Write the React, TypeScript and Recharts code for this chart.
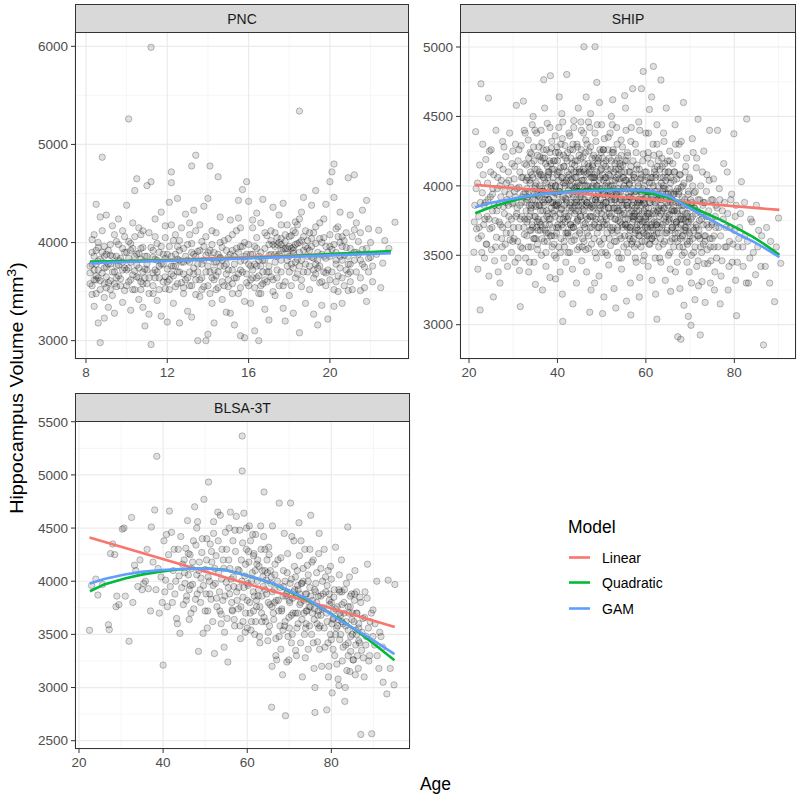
import React from 'react';
import { ScatterChart, Scatter, XAxis, YAxis, CartesianGrid } from 'recharts';

type Pt = [number, number];

const modelNames = ['Linear', 'Quadratic', 'GAM'];
const modelColors = ['#F8766D', '#00BA38', '#619CFF'];
const panelTitles = ['PNC', 'SHIP', 'BLSA-3T'];

const pncXTicks = [8, 12, 16, 20];
const pncYTicks = [3000, 4000, 5000, 6000];
const shipXTicks = [20, 40, 60, 80];
const shipYTicks = [3000, 3500, 4000, 4500, 5000];
const blsaXTicks = [20, 40, 60, 80];
const blsaYTicks = [2500, 3000, 3500, 4000, 4500, 5000, 5500];

const pncPoints: Pt[] = [
[8.2,3580],[8.3,3900],[8.3,4030],[8.4,3350],[8.4,3720],[8.5,3620],[8.5,4390],[8.6,3180],[8.6,3810],[8.7,2980],[8.7,3520],[8.7,4260],[8.8,4870],[8.8,3690],[8.9,3960],[8.9,3230],[8.9,3440],[8.2,3760],[8.5,3920],[8.8,4120],[8.4,3860],[8.6,3640],
[9.0,3750],[9.0,4280],[9.1,3590],[9.1,3340],[9.2,3980],[9.2,3870],[9.3,3460],[9.3,4170],[9.4,3700],[9.4,3280],[9.5,4010],[9.5,3550],[9.6,3820],[9.6,4240],[9.7,3630],[9.8,3390],[9.8,3940],[9.9,3740],[9.9,4060],[9.2,3610],[9.6,3770],[9.9,3510],[9.0,3880],
[10.0,4380],[10.0,3560],[10.1,5260],[10.1,3840],[10.2,3310],[10.2,3990],[10.3,3670],[10.3,4200],[10.4,3520],[10.4,4530],[10.5,4650],[10.5,3770],[10.6,3420],[10.6,3890],[10.7,4080],[10.7,3600],[10.8,3340],[10.8,3950],[10.9,3150],[10.9,3730],[10.2,3620],[10.6,4150],[10.9,3860],[10.4,3710],
[11.0,4580],[11.0,3580],[11.1,4100],[11.1,3270],[11.2,5990],[11.2,4620],[11.2,2960],[11.3,3850],[11.3,3480],[11.4,4240],[11.4,3720],[11.5,3410],[11.5,3990],[11.6,3640],[11.7,4310],[11.7,3250],[11.8,3780],[11.9,4050],[11.9,3530],[11.3,3690],[11.6,3900],[11.8,3600],
[12.0,3190],[12.0,3880],[12.1,4410],[12.1,3620],[12.2,4720],[12.2,4610],[12.2,3760],[12.3,3380],[12.3,4020],[12.4,3550],[12.5,4450],[12.5,3830],[12.6,3180],[12.6,3700],[12.7,4150],[12.8,3480],[12.8,3940],[12.9,3620],[12.9,4290],[12.4,3880],[12.7,3590],
[13.0,3820],[13.0,3300],[13.1,4080],[13.1,3560],[13.2,4780],[13.2,3240],[13.3,3740],[13.3,4330],[13.4,4890],[13.4,3620],[13.5,3000],[13.5,3910],[13.6,3450],[13.6,4180],[13.7,3780],[13.8,3550],[13.8,4370],[13.9,3000],[13.9,3870],[13.2,3990],[13.5,3700],[13.7,4010],
[14.0,3065],[14.0,4450],[14.1,4780],[14.1,3700],[14.2,3380],[14.2,3980],[14.3,3180],[14.3,3620],[14.4,4100],[14.5,4670],[14.5,3540],[14.6,3850],[14.6,4260],[14.7,3420],[14.8,3760],[14.8,4020],[14.9,3290],[14.9,3680],[14.3,3900],[14.7,3950],[14.4,3800],
[15.0,3850],[15.0,3550],[15.1,4230],[15.1,3280],[15.2,3720],[15.2,4080],[15.3,3160],[15.3,3640],[15.4,3940],[15.5,4430],[15.5,3480],[15.6,3810],[15.6,3050],[15.7,4540],[15.7,3700],[15.8,3030],[15.8,4000],[15.9,3590],[15.9,4620],[15.3,3860],[15.6,4150],[15.8,3400],
[16.0,3560],[16.0,4420],[16.1,3880],[16.1,3380],[16.2,4150],[16.2,3720],[16.3,3100],[16.3,3960],[16.4,3640],[16.4,4300],[16.5,3000],[16.5,3820],[16.6,3480],[16.6,4200],[16.7,3700],[16.7,4440],[16.8,3320],[16.8,3940],[16.9,3600],[16.9,4070],[16.3,3780],[16.6,3560],
[17.0,3870],[17.0,3210],[17.1,4120],[17.1,3650],[17.2,3980],[17.2,4360],[17.3,3460],[17.3,3800],[17.4,4050],[17.5,3560],[17.5,4280],[17.6,3920],[17.6,3700],[17.7,4400],[17.7,3330],[17.8,4010],[17.8,3600],[17.9,3940],[17.9,4180],[17.4,3860],[17.6,3980],[17.8,3200],
[18.0,3960],[18.0,3460],[18.1,4070],[18.1,3780],[18.2,3280],[18.2,3890],[18.3,4210],[18.3,3640],[18.4,3990],[18.5,5340],[18.5,3080],[18.5,3760],[18.6,4310],[18.6,3550],[18.7,3920],[18.8,4120],[18.8,3380],[18.9,3700],[18.9,4020],[18.2,3950],[18.4,3830],[18.7,4460],
[19.0,3520],[19.0,4100],[19.1,3850],[19.1,4380],[19.2,3640],[19.2,3270],[19.3,3990],[19.3,4530],[19.4,3160],[19.4,3740],[19.5,4200],[19.5,3590],[19.6,3880],[19.6,3360],[19.7,4050],[19.8,3690],[19.8,4390],[19.9,3220],[19.9,3900],[19.3,3780],[19.6,4000],
[20.0,4620],[20.0,3620],[20.1,4720],[20.1,3930],[20.2,4800],[20.2,4460],[20.2,3350],[20.3,3780],[20.3,4140],[20.4,3500],[20.5,3860],[20.5,4310],[20.6,3640],[20.6,3380],[20.7,4020],[20.8,3720],[20.8,3950],[20.9,4660],[20.9,3510],[20.4,4060],[20.7,3870],
[21.0,4280],[21.0,3780],[21.1,3520],[21.2,4690],[21.2,4130],[21.3,3900],[21.4,4010],[21.5,3640],[21.6,3930],[21.7,3750],[21.8,4430],[21.8,3400],[21.9,4140],[21.9,3700],[21.5,3510],[21.6,4330],
[22.0,3850],[22.1,3600],[22.4,4125],[22.6,3790],[23.2,4207],[22.9,3940],
[8.2,3690],[8.3,3560],[8.4,4080],[8.5,3780],[8.5,3480],[8.6,3950],[8.7,3830],[8.7,3610],[8.8,3900],[8.9,3740],[8.3,3470],[8.6,4000],[8.9,3580],[8.4,3620],
[9.0,3650],[9.1,3920],[9.1,3780],[9.2,3520],[9.3,3700],[9.3,3860],[9.4,4080],[9.5,3760],[9.5,3640],[9.6,3980],[9.7,3560],[9.7,3840],[9.8,3720],[9.9,3900],[9.4,3580],[9.8,4120],
[10.0,3720],[10.0,3900],[10.1,3600],[10.2,3800],[10.3,3520],[10.3,3940],[10.4,4060],[10.5,3650],[10.5,3880],[10.6,3740],[10.7,3520],[10.7,3830],[10.8,4120],[10.9,3640],[10.8,3700],[10.1,4010],
[11.0,3720],[11.0,3860],[11.1,3640],[11.2,3950],[11.3,3560],[11.4,3830],[11.4,4060],[11.5,3700],[11.6,3520],[11.7,3780],[11.7,3960],[11.8,3880],[11.9,3650],[11.9,4170],[11.1,3480],[11.5,3820],
[12.0,3730],[12.1,3960],[12.1,3520],[12.2,3860],[12.3,3660],[12.4,4080],[12.4,3760],[12.5,3580],[12.6,3920],[12.6,4020],[12.7,3800],[12.8,3680],[12.8,3540],[12.9,3860],[12.2,4180],[12.5,3700],
[13.0,3640],[13.0,3980],[13.1,3800],[13.2,3560],[13.3,3880],[13.3,3680],[13.4,4120],[13.5,3780],[13.6,3620],[13.6,3920],[13.7,3520],[13.8,3820],[13.9,3700],[13.9,4060],[13.1,4200],[13.4,3470],
[14.0,3760],[14.0,3560],[14.1,3920],[14.2,3640],[14.2,4120],[14.3,3800],[14.4,3520],[14.5,3880],[14.5,3700],[14.6,4000],[14.7,3600],[14.7,3820],[14.8,3560],[14.9,3920],[14.1,3480],[14.6,3760],
[15.0,3720],[15.0,4040],[15.1,3880],[15.2,3580],[15.3,3780],[15.4,3640],[15.4,4120],[15.5,3900],[15.6,3720],[15.6,3540],[15.7,3960],[15.8,3820],[15.9,3680],[15.9,3880],[15.2,3480],[15.5,4250],
[16.0,3780],[16.0,3980],[16.1,3620],[16.2,3880],[16.3,3540],[16.4,3760],[16.4,4050],[16.5,3660],[16.6,3900],[16.6,3760],[16.7,3580],[16.8,4100],[16.8,3820],[16.9,3700],[16.2,4230],[16.5,3480],
[17.0,3980],[17.0,3760],[17.1,3880],[17.2,3620],[17.3,3960],[17.3,4100],[17.4,3720],[17.5,3880],[17.5,4000],[17.6,3820],[17.7,3560],[17.7,3940],[17.8,4080],[17.9,3760],[17.2,3500],[17.6,4180],[17.9,3880],[17.4,3980],
[18.0,3860],[18.0,4060],[18.1,3940],[18.2,3740],[18.2,4120],[18.3,3980],[18.4,3680],[18.4,4180],[18.5,3900],[18.6,4020],[18.6,3820],[18.7,3700],[18.8,3960],[18.9,3860],[18.1,3560],[18.5,4240],[18.3,3800],[18.7,4060],
[19.0,3920],[19.0,3760],[19.1,4040],[19.2,3840],[19.3,3680],[19.3,4160],[19.4,3900],[19.5,3760],[19.5,4040],[19.6,3600],[19.7,3860],[19.7,4240],[19.8,3960],[19.9,3720],[19.2,4100],[19.8,3560],
[20.0,3860],[20.0,4080],[20.1,3700],[20.2,3980],[20.3,3600],[20.3,3900],[20.4,4160],[20.5,3740],[20.6,3960],[20.6,3820],[20.7,3560],[20.8,4100],[20.9,3860],[20.9,3680],[20.2,3520],[20.5,4000],
[21.0,3940],[21.0,3600],[21.1,4060],[21.2,3820],[21.3,3700],[21.4,3880],[21.5,4100],[21.6,3780],[21.7,3540],[21.8,3940],[21.9,3840],[21.3,4200],
[22.0,4000],[22.1,3760],[22.3,3880],[22.5,3540],[22.7,4020],
[8.3,3780],[8.6,3720],[8.9,3860],[9.2,3780],[9.5,3860],[9.8,3800],[10.1,3740],[10.4,3860],[10.7,3940],[11.0,3780],[11.3,3920],[11.6,3760],[11.9,3840],[12.2,3680],[12.5,3960],[12.8,3800],[13.1,3700],[13.4,3860],[13.7,3640],[14.0,3900],[14.3,3720],[14.6,3840],[14.9,3780],[15.2,3920],[15.5,3680],[15.8,3860],[16.1,3760],[16.4,3940],[16.7,3820],[17.0,3700],[17.3,3880],[17.6,4040],[17.9,3820],[18.2,3920],[18.5,4000],[18.8,3780],[19.1,3960],[19.4,3820],[19.7,3700],[20.0,3960],[20.3,3820],[20.6,4060],[20.9,3780],[21.2,3900],[21.5,3820],
[8.5,3660],[9.0,3540],[9.6,3660],[10.2,3920],[10.8,3580],[11.4,3640],[12.0,3600],[12.6,3820],[13.2,3900],[13.8,3960],[14.4,3660],[15.0,3620],[15.6,3960],[16.2,3640],[16.8,3620],[17.4,3640],[18.0,3700],[18.6,3620],[19.2,3720],[19.8,3840],[20.4,3660],[21.0,3700],[17.1,4020],[18.3,4100],[17.8,3940],[18.9,3940],[16.5,3860],[14.2,3840],[12.3,3760],[10.6,3640]
];

const shipPoints: Pt[] = [
[21.1,3522],[21.3,3860],[21.5,4390],[21.7,3690],[21.9,4020],[22.0,3400],[22.2,3780],[22.4,4150],[22.5,3106],[22.7,4735],[22.8,3640],[23.0,3950],[23.1,4300],[23.3,3720],[23.5,3480],[23.7,3880],[23.8,4190],[23.9,3580],
[24.1,3780],[24.2,4020],[24.4,4632],[24.5,3350],[24.7,3690],[24.8,3920],[25.0,4260],[25.1,3540],[25.3,3820],[25.5,3200],[25.6,4080],[25.8,3460],[25.9,3750],[26.1,4400],[26.2,3630],[26.4,3980],[26.6,3380],[26.7,3860],[26.9,4150],[27.0,3300],
[27.1,3720],[27.3,4040],[27.5,3560],[27.6,4320],[27.8,3850],[27.9,3480],[28.1,3960],[28.3,4210],[28.4,3660],[28.6,3900],[28.7,3420],[28.9,4100],[29.0,3780],[29.2,4380],[29.3,3610],[29.5,3990],[29.6,3520],[29.8,3870],[29.9,4250],
[30.1,3700],[30.2,4050],[30.4,3450],[30.5,3920],[30.7,4580],[30.8,3800],[31.0,3600],[31.1,4180],[31.3,3990],[31.4,3390],[31.6,3130],[31.6,3760],[31.8,4290],[31.9,3880],[32.1,3550],[32.2,4060],[32.4,3700],[32.5,4400],[32.7,3950],[32.8,3480],[32.9,3820],[32.3,4610],
[33.0,4150],[33.1,3640],[33.3,3900],[33.4,4330],[33.5,3380],[33.7,3780],[33.8,4020],[34.0,3560],[34.1,4230],[34.2,3860],[34.4,3700],[34.5,4500],[34.7,3450],[34.8,3980],[34.9,4120],[35.1,3620],[35.2,3850],[35.3,4380],[35.5,3540],[35.6,3930],[35.7,4070],[35.9,3740],[35.0,3290],[34.3,4440],
[36.0,4210],[36.1,3680],[36.3,3960],[36.4,3500],[36.5,4310],[36.7,3820],[36.8,4060],[36.9,4764],[37.0,3600],[37.2,3900],[37.3,4160],[37.4,3420],[37.6,3780],[37.7,4450],[37.8,3990],[37.9,3660],[38.1,4100],[38.2,3720],[38.3,3340],[38.4,4793],[38.5,3880],[38.6,4270],[38.8,3560],[38.9,4020],[37.1,4560],[36.6,3250],
[39.0,3800],[39.1,4180],[39.3,3640],[39.4,3950],[39.5,4360],[39.7,3480],[39.8,3870],[39.9,4080],[40.1,3720],[40.2,4240],[40.3,3560],[40.5,3990],[40.6,3380],[40.7,4130],[40.9,3830],[41.0,4520],[41.2,3024],[41.3,3700],[41.4,4020],[41.5,3600],[41.7,4290],[41.8,3910],[41.9,3450],[40.4,4640],[41.1,3220],[39.6,3330],
[42.0,3780],[42.1,4802],[42.2,4100],[42.4,3640],[42.5,3970],[42.6,4380],[42.8,3520],[42.9,3860],[43.0,4200],[43.2,3700],[43.3,4050],[43.4,3400],[43.6,3920],[43.7,4470],[43.8,3610],[43.9,4150],[44.1,3820],[44.2,3990],[44.3,3300],[44.5,4280],[44.6,3750],[44.7,4560],[44.9,3560],[44.0,4060],[43.5,3150],[44.4,3880],
[45.0,4120],[45.1,3680],[45.3,3940],[45.4,4400],[45.5,3460],[45.7,3830],[45.8,4210],[46.0,5002],[46.0,3600],[46.2,4000],[46.3,3730],[46.4,4330],[46.6,3380],[46.7,3880],[46.8,4090],[47.0,3550],[47.1,4250],[47.2,3960],[47.4,3700],[47.5,4520],[47.6,3250],[47.8,3850],[47.9,4150],[46.5,4640],[47.3,3090],[45.6,3560],
[48.0,3780],[48.1,4060],[48.3,3620],[48.5,5002],[48.5,4380],[48.6,3900],[48.8,3480],[48.9,4745],[49.0,4000],[49.2,3700],[49.3,4200],[49.4,3350],[49.6,3860],[49.7,4110],[49.9,3580],[50.0,4440],[50.1,3950],[50.3,3740],[50.4,4260],[50.5,3200],[50.7,3830],[50.8,4060],[50.9,3520],[49.5,4600],[50.2,3080],[48.4,3300],
[51.0,4180],[51.2,3660],[51.3,3930],[51.5,4350],[51.6,3430],[51.7,3800],[51.9,4070],[52.0,3570],[52.2,4500],[52.3,3880],[52.4,4000],[52.6,3700],[52.7,4240],[52.8,3260],[53.0,3840],[53.1,4120],[53.3,3600],[53.4,4420],[53.5,3950],[53.7,3750],[53.8,4200],[53.9,3480],[52.5,4620],[53.2,3120],
[54.0,4050],[54.1,3640],[54.3,3900],[54.4,4330],[54.5,3400],[54.7,3790],[54.8,4150],[55.0,3560],[55.1,4000],[55.3,3720],[55.4,4560],[55.6,3170],[55.6,3860],[55.8,4240],[55.9,3520],[56.1,3940],[56.2,4100],[56.4,3680],[56.5,3300],[56.6,3070],[56.7,4420],[56.8,3820],[56.9,3600],[55.2,4650],[56.3,4010],
[57.0,4700],[57.1,3780],[57.2,4080],[57.4,3560],[57.5,3960],[57.6,4300],[57.8,3450],[57.9,3820],[58.0,4150],[58.2,3680],[58.3,3900],[58.4,4460],[58.6,3340],[58.7,3760],[58.8,4050],[59.0,4700],[59.1,3600],[59.2,3940],[59.4,4824],[59.4,4230],[59.6,3500],[59.7,3870],[59.8,4100],[58.5,3200],[59.9,3700],
[60.0,4380],[60.1,3650],[60.3,3960],[60.4,4200],[60.5,3420],[60.7,3800],[60.8,4550],[60.9,3580],[61.1,4060],[61.2,3720],[61.4,3320],[61.5,3900],[61.6,4300],[61.7,4860],[61.8,3640],[62.0,4120],[62.1,3480],[62.3,3850],[62.5,3040],[62.5,4440],[62.6,3740],[62.8,4000],[62.9,3560],[61.3,4640],[62.2,3220],
[63.0,4230],[63.1,3700],[63.3,3920],[63.4,4762],[63.4,3450],[63.6,3820],[63.7,4140],[63.9,3580],[64.0,4380],[64.1,3760],[64.3,3980],[64.4,3320],[64.6,4560],[64.7,3660],[64.8,3880],[65.0,4100],[65.1,3500],[65.3,3790],[65.4,4250],[65.6,3240],[65.7,3950],[65.9,3620],[64.5,4040],[65.5,3400],
[66.0,3830],[66.1,4160],[66.3,3560],[66.4,3940],[66.6,4440],[66.7,3380],[66.8,3720],[67.0,4050],[67.2,2913],[67.2,3600],[67.4,3880],[67.5,4300],[67.7,3260],[67.8,3760],[67.9,2895],[68.0,3990],[68.2,3500],[68.3,3820],[68.5,4600],[68.6,3140],[68.8,3680],[68.9,4100],[67.1,3450],
[69.0,3750],[69.2,4200],[69.3,3450],[69.5,3860],[69.6,3060],[69.8,4050],[69.9,3600],[70.1,3900],[70.2,2996],[70.3,3300],[70.5,4340],[70.6,3700],[70.8,3520],[70.9,3950],[71.1,3180],[71.2,3800],[71.4,4130],[71.5,3420],[71.7,3640],[71.8,4480],[71.9,3280],[70.4,3880],
[72.1,3750],[72.3,2926],[72.4,4000],[72.6,3520],[72.7,3310],[72.9,3860],[73.1,4250],[73.2,3640],[73.4,3160],[73.6,3780],[73.8,4080],[74.0,3440],[74.2,3700],[74.4,4400],[74.6,3300],[74.8,3900],[73.0,3580],
[75.0,3620],[75.3,4050],[75.5,3250],[75.7,3780],[76.0,3480],[76.2,4400],[76.5,3700],[76.7,3900],[77.0,3350],[77.3,3820],[77.6,4160],[77.9,3560],[76.8,3150],
[78.1,3700],[78.4,4100],[78.6,3250],[78.9,3600],[79.2,3900],[79.5,3450],[79.9,4375],[80.2,3780],[80.5,3065],[80.8,3560],[80.3,3320],
[81.2,3700],[81.6,4030],[82.0,3420],[82.4,3640],[82.8,4481],[83.2,3300],[83.7,3760],[84.3,3520],[85.0,3860],[85.5,3680],[86.0,3420],[86.6,2854],[87.3,3700],[88.2,3600],[89.1,3166],[90.0,3768],[90.5,3442],
[21.2,3740],[21.6,3980],[22.1,3620],[22.6,3880],[23.2,4080],[23.6,3760],[24.0,3580],[24.3,3900],[24.9,4100],[25.2,3700],[25.7,3860],[26.0,3560],[26.5,4060],[26.8,3740],[27.2,3920],[27.4,3620],[27.7,4120],[28.0,3800],[28.2,3580],[28.5,4020],[28.8,3720],[29.1,3940],[29.4,3660],[29.7,4160],[24.6,4250],[22.9,3520],[25.4,3980],[27.9,4280],[28.9,3860],[29.9,3600],
[30.0,3880],[30.2,3620],[30.3,4140],[30.6,3780],[30.9,3980],[31.2,3700],[31.3,4260],[31.5,3860],[31.7,3560],[31.9,4060],[32.0,3780],[32.3,3940],[32.5,3650],[32.6,4160],[32.9,3880],[33.1,3740],[33.2,4060],[33.4,3560],[33.6,3960],[33.8,4240],[33.9,3820],[34.0,3680],[34.2,4080],[34.4,3900],[34.6,3620],[34.7,4180],[34.8,3780],[35.0,4000],[35.1,3860],[35.3,3700],[35.4,4120],[35.6,3760],[35.8,4280],[35.9,3920],[30.5,4300],[31.1,3480],[32.7,4380],[33.7,3450],[34.9,4400],[35.5,3580],
[36.0,3860],[36.1,4080],[36.2,3720],[36.4,3980],[36.5,3620],[36.7,4200],[36.8,3880],[36.9,3760],[37.1,4040],[37.2,3680],[37.3,3940],[37.5,4260],[37.6,3820],[37.7,3600],[37.9,4100],[38.0,3900],[38.1,3760],[38.2,4180],[38.4,3640],[38.5,3980],[38.6,3840],[38.7,4320],[38.9,3700],[39.0,4060],[39.1,3920],[39.2,3580],[39.4,4180],[39.5,3780],[39.6,4000],[39.8,3660],[39.9,4280],[40.0,3860],[40.1,4100],[40.2,3700],[40.4,3960],[40.5,4220],[40.6,3800],[40.8,3620],[40.9,4060],[41.0,3900],[41.1,4340],[41.3,3760],[41.4,4140],[41.5,3860],[41.6,3560],[41.8,4020],[41.9,4200],[36.3,4400],[37.4,3520],[38.3,4420],[39.3,3500],[40.3,4420],[40.7,3520],[41.2,4460],[37.8,4060],[39.7,3860],[41.7,3740],[36.6,3960],[38.8,4120],
[42.0,4040],[42.1,3880],[42.2,3660],[42.3,4240],[42.5,3780],[42.6,4080],[42.7,3940],[42.8,4360],[42.9,3720],[43.0,3880],[43.1,4120],[43.2,3600],[43.3,4000],[43.4,3840],[43.5,4260],[43.6,3700],[43.8,3980],[43.9,3800],[44.0,4180],[44.1,3640],[44.2,4100],[44.3,3900],[44.4,4300],[44.6,3760],[44.7,4020],[44.8,3860],[44.9,4220],[45.0,3660],[45.1,3920],[45.2,4100],[45.3,3780],[45.4,4260],[45.5,3880],[45.6,4040],[45.7,3620],[45.8,3960],[45.9,4380],[46.0,3820],[46.1,4160],[46.2,3700],[46.3,3960],[46.5,4080],[46.6,3880],[46.7,4300],[46.8,3760],[46.9,4000],[47.0,3640],[47.1,4140],[47.2,3860],[47.3,4420],[47.4,3960],[47.5,3780],[47.6,4060],[47.7,3580],[47.8,4200],[47.9,3900],[42.4,3520],[43.7,4420],[44.5,3540],[45.3,4460],[46.4,3540],[47.0,4460],[43.0,3720],[44.0,3960],[45.0,4000],[46.0,4040],[47.5,4120],
[48.0,4000],[48.1,3840],[48.2,4220],[48.3,3720],[48.4,4060],[48.6,3900],[48.7,4320],[48.8,3760],[48.9,4100],[49.0,3660],[49.1,3940],[49.2,4180],[49.3,3820],[49.4,4040],[49.5,3600],[49.6,4260],[49.7,3900],[49.8,3760],[49.9,4120],[50.0,3980],[50.1,3700],[50.2,4200],[50.3,3860],[50.4,4040],[50.5,3620],[50.6,4340],[50.7,3940],[50.8,3780],[50.9,4140],[51.0,3880],[51.1,4020],[51.2,3720],[51.4,4260],[51.5,3840],[51.6,4080],[51.7,3620],[51.8,3960],[51.9,4380],[52.0,3780],[52.1,4120],[52.2,3900],[52.3,3680],[52.5,4040],[52.6,4260],[52.7,3840],[52.8,3980],[52.9,3600],[53.0,4160],[53.1,3900],[53.2,3760],[53.3,4060],[53.4,3840],[53.5,4300],[53.6,3700],[53.7,3980],[53.8,4120],[53.9,3820],[48.5,3520],[49.0,4440],[50.0,3520],[51.3,3500],[52.4,4440],[53.6,3520],[48.8,4000],[50.5,3880],[52.0,4000],[53.0,3920],
[54.0,3880],[54.1,4160],[54.2,3740],[54.3,3960],[54.4,3620],[54.5,4100],[54.6,3860],[54.7,4280],[54.8,3700],[54.9,3980],[55.0,4060],[55.1,3800],[55.2,3640],[55.3,4180],[55.4,3900],[55.5,3720],[55.6,4040],[55.7,3580],[55.8,3860],[55.9,4220],[56.0,3760],[56.1,3640],[56.2,3920],[56.3,3800],[56.4,4100],[56.5,3700],[56.6,3960],[56.7,3580],[56.8,4040],[56.9,3860],[57.0,3740],[57.1,4180],[57.2,3620],[57.3,3880],[57.4,4060],[57.5,3780],[57.6,3660],[57.7,3940],[57.8,4240],[57.9,3700],[58.0,3860],[58.1,3580],[58.2,4020],[58.3,3760],[58.4,3640],[58.5,4120],[58.6,3880],[58.7,3720],[58.8,3960],[58.9,3560],[59.0,4060],[59.1,3800],[59.2,3680],[59.3,4180],[59.5,3880],[59.6,3740],[59.7,4000],[59.8,3600],[59.9,3920],[54.5,3480],[55.5,4400],[56.6,4320],[57.6,3480],[58.6,4400],[59.4,3460],
[60.0,3840],[60.1,4100],[60.2,3720],[60.3,3640],[60.4,3960],[60.5,4240],[60.6,3780],[60.7,3580],[60.8,4020],[60.9,3880],[61.0,3700],[61.1,4160],[61.2,3920],[61.3,3620],[61.4,4060],[61.5,3800],[61.6,3680],[61.7,4000],[61.8,4220],[61.9,3740],[62.0,3880],[62.1,3600],[62.2,4060],[62.3,3720],[62.4,3960],[62.6,4140],[62.7,3820],[62.8,3660],[62.9,3940],[63.0,3780],[63.2,4060],[63.3,3620],[63.5,3900],[63.6,4200],[63.8,3720],[63.9,3980],[64.0,3840],[64.2,3600],[64.3,4100],[64.5,3780],[64.6,3920],[64.8,3680],[64.9,4180],[65.0,3860],[65.2,3740],[65.3,3980],[65.5,3600],[65.6,4060],[65.8,3820],[65.9,3700],[60.6,4380],[62.5,4300],[63.1,3480],[64.1,4320],[65.4,3520],
[66.0,3700],[66.2,3940],[66.3,3820],[66.5,4100],[66.6,3620],[66.8,3880],[66.9,3740],[67.0,4220],[67.2,3800],[67.3,3660],[67.5,3960],[67.6,3560],[67.8,4080],[67.9,3720],[68.1,3860],[68.2,3640],[68.4,4000],[68.5,3760],[68.7,3520],[68.8,3900],[69.0,4140],[69.1,3680],[69.3,3800],[69.4,3580],[69.6,3940],[69.7,3740],[69.9,4060],[70.0,3640],[70.2,3860],[70.3,3500],[70.5,3780],[70.6,4000],[70.8,3680],[70.9,3840],[71.1,3560],[71.2,3960],[71.4,3720],[71.5,4200],[71.7,3820],[71.8,3460],[71.9,3640],[66.7,4300],[68.0,4320],[69.8,3380],[70.7,4240],
[72.0,3680],[72.2,3900],[72.4,3560],[72.5,3800],[72.8,4100],[73.0,3720],[73.2,3440],[73.3,3880],[73.5,3640],[73.7,3960],[73.9,3540],[74.1,3780],[74.3,4040],[74.5,3620],[74.7,3460],[74.9,3720],[75.1,3900],[75.4,3560],[75.6,3380],[75.8,3700],[76.1,3840],[76.3,3560],[76.6,3980],[76.9,3640],[77.2,3460],[77.5,3760],[77.8,3880],[78.2,3560],[78.5,3800],[78.8,3420],[79.1,3700],[79.4,3940],[79.7,3580],[80.0,3680],[80.4,3860],
[80.7,3450],[81.0,3620],[81.4,3800],[81.9,3560],[82.3,3880],[82.7,3300],[83.0,3600],[83.5,3480],[84.0,3740],[84.8,3360],[85.3,3560],[86.2,3640],[87.0,3420],[88.0,3300],[89.5,3560],
[33.1,3980],[33.3,3760],[33.5,4200],[33.6,3860],[33.8,3680],[33.9,4100],[33.2,3920],[33.7,4040],
[34.0,3840],[34.2,4160],[34.3,3720],[34.5,3960],[34.6,4280],[34.8,3620],[34.9,3900],[34.4,4060],
[35.0,3780],[35.2,4020],[35.3,3940],[35.5,4220],[35.6,3680],[35.8,3860],[35.9,4100],[35.4,3740],
[36.0,4000],[36.2,3820],[36.3,4180],[36.5,3900],[36.6,3700],[36.8,4260],[36.9,3960],[36.4,4080],
[37.0,3860],[37.1,4200],[37.3,3720],[37.4,4020],[37.6,3940],[37.7,4140],[37.9,3800],[37.5,3660],
[38.0,4080],[38.1,3900],[38.3,4240],[38.4,3760],[38.6,4000],[38.7,3640],[38.9,3880],[38.5,4160],
[39.0,3960],[39.2,4120],[39.3,3820],[39.5,4000],[39.6,4240],[39.8,3700],[39.9,3940],[39.4,3860],
[40.0,4180],[40.2,3880],[40.3,4040],[40.5,3760],[40.6,3960],[40.8,4300],[40.9,3840],[40.4,4100],
[41.0,3720],[41.1,4060],[41.3,3920],[41.4,4220],[41.6,3800],[41.7,4000],[41.9,3660],[41.5,4140],
[42.0,3900],[42.2,4180],[42.3,3760],[42.5,4060],[42.6,3840],[42.8,4000],[42.9,4260],[42.4,3660],
[43.0,4040],[43.1,3820],[43.3,4160],[43.4,3940],[43.6,3700],[43.7,4100],[43.9,3880],[43.5,4300],
[44.0,3860],[44.2,4060],[44.3,3740],[44.5,4180],[44.6,3960],[44.8,3820],[44.9,4100],[44.4,4000],
[45.0,3960],[45.2,3780],[45.3,4200],[45.5,4040],[45.6,3860],[45.8,4120],[45.9,3720],[45.4,3920],
[46.0,4100],[46.1,3900],[46.3,4240],[46.4,3780],[46.6,4000],[46.7,3660],[46.9,4160],[46.5,3860],
[47.0,3920],[47.2,4100],[47.3,3780],[47.5,4280],[47.6,3980],[47.8,3700],[47.9,4060],[47.4,3840],
[48.0,4140],[48.2,3860],[48.3,4020],[48.5,3740],[48.6,4200],[48.8,3920],[48.9,3800],[48.4,4080],
[49.0,3880],[49.1,4160],[49.3,3960],[49.4,3700],[49.6,4060],[49.7,3840],[49.9,4240],[49.5,3980],
[50.0,3800],[50.2,4080],[50.3,3940],[50.5,4160],[50.6,3720],[50.8,4000],[50.9,3880],[50.4,4260],
[51.0,4060],[51.1,3760],[51.3,4120],[51.4,3920],[51.6,3840],[51.7,4200],[51.9,3700],[51.5,4000],
[52.0,3940],[52.2,4180],[52.3,3800],[52.5,3960],[52.6,3660],[52.8,4100],[52.9,3900],[52.4,4240],
[53.0,3760],[53.1,4040],[53.3,3940],[53.4,4180],[53.6,3820],[53.7,4080],[53.9,3960],[53.5,3680],
[54.0,4020],[54.2,3800],[54.3,4140],[54.5,3900],[54.6,3720],[54.8,4060],[54.9,3840],[54.4,4220],
[55.0,3920],[55.2,4100],[55.3,3760],[55.5,3980],[55.6,4180],[55.8,3700],[55.9,3880],[55.4,4040],
[56.0,3840],[56.2,4020],[56.3,3700],[56.5,3920],[56.6,4140],[56.8,3780],[56.9,3980],[56.4,3620],
[57.0,3900],[57.2,3760],[57.3,4060],[57.5,3840],[57.6,3680],[57.8,3960],[57.9,4120],[57.4,3800],
[58.0,3720],[58.2,3880],[58.3,4000],[58.5,3780],[58.6,3640],[58.8,3900],[58.9,4080],[58.4,3820],
[59.0,3860],[59.2,3740],[59.3,3980],[59.5,3660],[59.6,3820],[59.8,4040],[59.9,3760],[59.4,3900],
[60.0,3780],[60.2,3920],[60.3,3700],[60.5,4060],[60.6,3840],[60.8,3640],[60.9,3960],[60.4,3800],
[61.0,3880],[61.2,3760],[61.3,4020],[61.5,3700],[61.6,3920],[61.8,3820],[61.9,4100],[61.4,3620],
[62.0,3960],[62.2,3800],[62.3,4080],[62.5,3720],[62.6,3900],[62.8,4180],[62.9,3840],[62.4,3660],
[63.0,3920],[63.2,4120],[63.3,3800],[63.5,4020],[63.6,3700],[63.8,3960],[63.9,4060],[63.4,3860],
[64.0,4000],[64.2,3840],[64.3,4160],[64.5,3740],[64.6,3940],[64.8,4060],[64.9,3800],[64.4,3660],
[65.0,3940],[65.2,4100],[65.3,3760],[65.5,3880],[65.6,4020],[65.8,3680],[65.9,3900],[65.4,4180],
[66.0,3880],[66.2,3760],[66.3,4040],[66.5,3820],[66.6,3660],[66.8,3960],[66.9,3740],[66.4,4100],
[67.0,3820],[67.2,3980],[67.3,3700],[67.5,3860],[67.6,4080],[67.8,3620],[67.9,3780],[67.4,3940],
[68.0,3760],[68.2,3920],[68.3,3640],[68.5,3860],[68.6,4020],[68.8,3700],[68.9,3800],[68.4,3560],
[69.0,3700],[69.2,3880],[69.3,3600],[69.5,3780],[69.6,3960],[69.8,3660],[69.9,3840],[69.4,3740],
[70.2,3760],[70.6,3620],[71.0,3840],[71.4,3700],[71.8,3900],[72.2,3620],[72.6,3760],[73.0,3880],[73.4,3600],[73.8,3720],[74.2,3820],[74.6,3560],[75.0,3740],[75.4,3640],[75.8,3860],
[22.3,3700],[23.4,3860],[24.5,3760],[25.3,3940],[26.3,3820],[27.0,4000],[27.6,3700],[28.3,3880],[29.0,4040],[29.6,3760],[30.3,3960],[30.9,3840],[31.5,4100],[32.0,3920],[32.6,3760],[32.9,4040]
];

const blsaPoints: Pt[] = [
[22.5,3539],[23.0,3960],[24.0,4020],[24.5,3870],[25.6,3970],[27.0,3590],[27.2,3545],[27.5,4260],[28.0,4350],[28.5,4250],[28.8,3760],[29.0,3860],[29.5,3780],[30.3,4490],[30.7,4500],[31.9,3436],[31.0,3860],[32.5,4600],[32.8,3800],[33.2,4150],[33.5,4100],[34.0,3950],[34.5,4200],[35.0,3920],[35.4,3980],
[35.8,4000],[36.2,4300],[36.5,3930],[37.0,3720],[37.2,4510],[37.6,4180],[38.0,4670],[38.3,3920],[38.5,5175],[38.8,4120],[39.1,3700],[39.5,4040],[39.8,3800],[40.0,3211],[40.2,4380],[40.4,3900],[40.6,4010],[40.8,4440],[41.0,3760],[41.3,4250],[41.5,4660],[41.7,3950],[42.0,4460],[42.2,3800],[42.4,4100],[42.6,4300],[42.8,3880],[43.0,4000],[43.2,3650],[43.4,3600],[43.6,4300],[43.8,4050],[44.0,3510],[44.2,4420],[44.4,3940],[44.6,4160],[44.8,3780],[45.0,4200],[45.2,3980],[45.4,4310],[45.6,3860],[45.8,4570],[46.0,4060],[46.2,3920],[46.4,4250],[46.6,3700],[46.8,4120],
[47.0,3970],[47.2,4380],[47.5,4700],[47.7,3830],[48.0,4060],[48.2,4560],[48.4,3340],[48.6,4180],[48.8,3920],[49.0,4030],[49.2,4270],[49.5,3510],[49.7,4770],[50.0,4110],[50.2,3880],[50.4,4400],[50.6,3720],[50.8,4933],[51.0,4000],[51.2,4350],[51.4,3830],[51.6,4180],[51.8,3620],[52.0,4450],[52.2,3320],[52.4,3980],[52.6,4240],[52.8,3760],[53.0,4650],[53.2,4080],[53.4,3900],[53.6,4620],[53.8,3690],[54.0,4300],[54.2,3820],[54.4,4120],[54.6,3520],[54.8,4460],[55.0,3990],[55.2,3650],[55.4,3240],[55.6,4200],[55.8,3880],[56.0,4650],[56.2,4020],[56.4,3730],[56.6,4380],[56.8,3950],[57.0,3580],[57.2,4280],[57.4,4610],[57.6,3820],[57.8,4110],[54.5,3380],[56.5,3720],
[58.0,3940],[58.2,4480],[58.4,3460],[58.6,4200],[58.8,5366],[58.8,5037],[59.0,3850],[59.2,4640],[59.4,4050],[59.6,3700],[59.8,4300],[60.0,3560],[60.2,3980],[60.4,4180],[60.6,3800],[60.8,4380],[61.0,3620],[61.2,4080],[61.4,3900],[61.6,4260],[61.8,3500],[62.0,4440],[62.2,3760],[62.4,4000],[62.6,3860],[62.8,4140],[63.0,3420],[63.2,4520],[63.4,3700],[63.6,4100],[63.8,3950],[64.0,4839],[64.2,4300],[64.4,3620],[64.6,3880],[64.8,4080],[65.0,3520],[65.2,4250],[65.4,3780],[65.6,3980],[65.8,2815],[65.9,3200],[66.0,4520],[66.2,3700],[66.4,3920],[66.6,4160],[66.8,3460],[67.0,3260],[67.2,4000],[67.4,3820],[67.6,4735],[67.8,3580],[60.5,4520],[62.5,4200],[64.5,4010],[66.5,3800],[59.5,3520],[61.5,3720],[63.5,3860],[65.5,4100],
[68.0,4220],[68.2,3740],[68.4,3120],[68.6,3950],[68.8,4450],[69.0,3620],[69.1,2735],[69.3,3880],[69.5,4080],[69.7,3480],[69.9,3260],[70.1,3800],[70.3,4735],[70.5,4020],[70.7,3500],[70.9,3700],[71.1,4380],[71.3,3920],[71.5,3350],[71.7,3860],[71.9,4100],[72.1,3600],[72.3,4550],[72.5,3780],[72.7,3420],[72.9,3980],[73.1,3100],[73.3,4000],[73.5,3700],[73.7,4300],[73.9,3560],[74.1,3880],[74.3,4150],[74.5,3360],[74.7,3760],[74.9,3940],[75.1,4620],[75.3,3500],[75.5,3820],[75.7,4200],[75.9,3640],[76.1,2765],[76.1,3000],[76.3,3900],[76.5,4080],[76.7,3430],[76.9,3720],[77.1,4450],[77.3,3580],[77.5,3860],[77.7,3200],[77.9,4000],[68.5,3540],[69.5,3900],[70.5,3680],[71.5,4040],[72.5,3880],[73.5,3820],[74.5,4060],[75.5,3700],[76.5,3800],[77.5,3680],[70.0,3820],[72.0,3960],[74.0,3720],
[78.1,3750],[78.3,4300],[78.5,3380],[78.7,3900],[78.9,2790],[79.0,3620],[79.2,4100],[79.4,3200],[79.6,3780],[79.8,3500],[80.0,4020],[80.2,2950],[80.4,3650],[80.6,3850],[80.8,3300],[81.0,4320],[81.2,3560],[81.4,3760],[81.6,3080],[81.8,3920],[82.0,3450],[82.2,3680],[82.4,4200],[82.6,3250],[82.8,3600],[83.0,3800],[83.2,2870],[83.4,3400],[83.6,3980],[83.9,4510],[84.0,3540],[84.2,3700],[84.4,3150],[84.6,3340],[84.8,3880],[85.0,3500],[85.2,3260],[85.4,3620],[85.6,4100],[85.8,3400],[86.0,3700],[86.2,3300],[86.5,3560],[86.8,3850],[87.0,2559],[87.2,3350],[87.5,3650],[87.8,3100],[88.0,3900],[88.3,3480],[88.6,4160],[88.9,3250],[89.2,3620],[89.6,2565],[89.9,3730],[90.3,3400],[90.8,4000],[91.3,3180],[91.8,3480],[92.3,3050],[93.2,2940],[93.5,4010],[94.0,3180],[94.9,3025],[95.1,3969],[79.5,3880],[80.5,3720],[81.5,3580],[82.5,3900],[83.5,3620],[84.5,3760],[85.5,3820],[86.5,3440],[80.0,3450],[82.0,3700],[84.0,3300],[86.0,3500],
[45.1,4080],[45.5,3820],[46.0,4260],[46.5,3960],[47.0,4180],[47.3,3740],[47.8,4340],[48.1,3880],[48.5,4100],[48.9,3800],[49.3,4400],[49.6,3960],[50.0,3720],[50.3,4200],[50.7,4040],[51.1,3880],[51.5,4280],[51.9,3960],[52.3,4120],[52.7,3840],[53.1,4380],[53.5,3720],[53.9,4020],[54.3,4200],[54.7,3860],[55.1,4300],[55.5,3940],[55.9,4120],[56.3,3800],[56.7,4040],[57.1,4480],[57.5,3900],[57.9,3740],[46.2,3640],[48.0,4500],[50.5,3560],[52.0,4560],[53.8,3600],[55.7,4500],[56.9,3640],
[58.1,4100],[58.5,3760],[58.9,4360],[59.2,3940],[59.6,4160],[60.0,3820],[60.3,4280],[60.7,3700],[61.0,4000],[61.3,4440],[61.7,3860],[62.0,3620],[62.3,4160],[62.7,3920],[63.0,3760],[63.3,4300],[63.7,4040],[64.0,3660],[64.3,3920],[64.7,4200],[65.0,3800],[65.3,3580],[65.7,4040],[66.0,3900],[58.3,3580],[59.0,3620],[60.9,3540],[61.9,4100],[62.9,3480],[63.9,4420],[64.9,3440],[65.9,3760],[59.8,4500],[61.5,4240],[63.5,3620],[65.1,4320],[60.2,3960],[62.2,3820],[64.2,4100],[58.7,4000],
[66.3,3640],[66.6,4060],[66.9,3820],[67.3,4200],[67.6,3480],[67.9,3940],[68.2,3720],[68.6,4100],[68.9,3580],[69.2,3860],[69.6,4260],[69.9,3660],[70.2,3980],[70.5,3420],[70.8,3840],[71.2,4140],[71.5,3700],[71.8,3560],[72.1,3920],[72.4,4240],[72.7,3800],[73.0,3640],[73.3,4120],[73.6,3500],[73.9,3880],[74.2,3720],[74.5,4000],[74.8,3580],[75.1,3860],[75.4,4180],[75.7,3420],[76.0,3740],[76.3,3980],[76.6,3600],[76.9,3860],[77.2,3360],[77.5,4120],[77.8,3740],[66.8,3300],[68.0,3360],[69.4,3240],[70.6,4420],[71.7,3300],[72.8,4380],[73.8,3280],[74.9,4300],[75.9,3180],[77.0,4260],[67.5,3720],[69.0,4000],[71.0,3900],[73.0,3980],[74.0,3600],[75.0,3760],[76.0,3920],[77.0,3560],[68.5,3860],[70.0,3560],[72.0,3700],[76.8,3680],
[78.0,3880],[78.3,3560],[78.6,4040],[78.9,3700],[79.2,3420],[79.5,3820],[79.8,4140],[80.1,3600],[80.4,3360],[80.7,3920],[81.0,3740],[81.3,3220],[81.6,3640],[81.9,4060],[82.2,3500],[82.5,3780],[82.8,3380],[83.1,3920],[83.4,3580],[83.7,3160],[84.0,3760],[84.3,4040],[84.6,3480],[84.9,3640],[85.2,3260],[85.5,3880],[85.8,3540],[86.1,3700],[86.4,3180],[86.7,3420],[87.0,3800],[87.3,3520],[87.6,3280],[87.9,3660],[88.2,3400],[88.5,3840],[88.8,3560],[89.1,3300],[89.5,3700],[89.9,3480],[90.4,3600],[90.9,3300],[91.5,3520],[92.2,3380],[79.0,3960],[80.0,3800],[81.0,3500],[82.0,3900],[83.0,3700],[84.0,3420],[85.0,3700],[86.0,3900],[80.5,3640],[82.5,3620],[84.5,3860],[86.5,3600],[79.3,3100],[81.8,3020],[83.3,3000],[85.7,3120]
];

const pncLinear: Pt[] = [[8.2,3798],[23.0,3903]];
const pncQuadratic: Pt[] = [[8.2,3806],[10,3811],[12,3818],[14,3828],[16,3842],[18,3860],[20,3882],[22,3904],[23,3914]];
const pncGam: Pt[] = [[8.2,3789],[10,3801],[12,3813],[14,3826],[16,3839],[18,3854],[20,3869],[22,3883],[23,3891]];

const shipLinear: Pt[] = [[21.4,4007],[90.2,3827]];
const shipQuadratic: Pt[] = [[21.4,3803],[25,3848],[29.3,3887],[33,3920],[36.7,3942],[44.4,3966],[50,3975],[56,3972],[61.7,3942],[65.5,3911],[69.3,3862],[73,3810],[76.8,3757],[80.5,3697],[84.3,3630],[87,3575],[90.2,3503]];
const shipGam: Pt[] = [[21.4,3846],[25,3878],[29.3,3904],[33,3926],[36.7,3942],[44.4,3959],[50,3966],[56.4,3971],[59,3969],[61.7,3959],[65.5,3923],[69.3,3851],[73,3783],[76.8,3719],[80.5,3658],[84.3,3598],[87,3550],[90.2,3486]];

const blsaLinear: Pt[] = [[22.5,4411],[95.1,3570]];
const blsaQuadratic: Pt[] = [[22.6,3906],[26,3970],[30.9,4025],[34.9,4062],[38.9,4088],[42.8,4108],[46.8,4118],[50.7,4120],[54.7,4108],[58.3,4070],[62,4030],[66.2,3975],[70,3905],[74.1,3828],[78,3740],[82.1,3640],[86,3535],[90,3414],[95,3257]];
const blsaGam: Pt[] = [[22.6,3978],[26,4020],[30.9,4063],[34.9,4088],[38.9,4103],[42.8,4113],[46.8,4119],[50.7,4118],[54.7,4105],[58.3,4070],[62,4030],[66.2,3978],[70,3910],[74.1,3837],[78,3740],[82.1,3633],[86,3540],[90,3445],[95,3314]];

const toXY = (a: Pt[]) => a.map(([x, y]) => ({ x, y }));

const FONT = '"Liberation Sans", Arial, Helvetica, sans-serif';

const Dot = (p: any) => (
  <circle cx={p.cx} cy={p.cy} r={3.2} fill="#000" fillOpacity={0.12} stroke="#000" strokeOpacity={0.28} strokeWidth={0.9} />
);
const NoDot = () => <g />;

const scaleFn = (ax: any) => {
  const s = ax?.scale;
  if (!s) return null;
  if (typeof s === 'function') return (v: number) => s(v);
  if (typeof s.map === 'function') return (v: number) => s.map(v);
  return null;
};
const minorGen = (vals: number[], key: 'xAxis' | 'yAxis') => (props: any) => {
  try {
    const f = scaleFn(props?.[key]);
    if (!f) return [];
    return vals.map((v) => f(v)).filter((v) => Number.isFinite(v));
  } catch (e) {
    return [];
  }
};

type PanelProps = {
  left: number; top: number; width: number; height: number;
  margin: { top: number; right: number; bottom: number; left: number };
  xDomain: [number, number]; yDomain: [number, number];
  xTicks: number[]; yTicks: number[]; xMinor: number[]; yMinor: number[];
  points: Pt[]; fits: Pt[][];
};

function Panel(p: PanelProps) {
  const tickStyle = { fill: '#4d4d4d', fontSize: 13.5, fontFamily: FONT };
  return (
    <div style={{ position: 'absolute', left: p.left, top: p.top, width: p.width, height: p.height }}>
      <ScatterChart width={p.width} height={p.height} margin={p.margin}>
        <CartesianGrid stroke="#f2f2f2" strokeWidth={0.7}
          horizontalCoordinatesGenerator={minorGen(p.yMinor, 'yAxis')}
          verticalCoordinatesGenerator={minorGen(p.xMinor, 'xAxis')} />
        <CartesianGrid stroke="#ebebeb" strokeWidth={1.2} />
        <XAxis type="number" dataKey="x" domain={p.xDomain} ticks={p.xTicks} interval={0}
          allowDataOverflow axisLine={false} tickLine={{ stroke: '#333333' }} tickSize={4} tickMargin={4}
          tick={tickStyle} height={30} />
        <YAxis type="number" dataKey="y" domain={p.yDomain} ticks={p.yTicks} interval={0}
          allowDataOverflow axisLine={false} tickLine={{ stroke: '#333333' }} tickSize={4} tickMargin={3}
          tick={tickStyle} width={40} />
        <Scatter data={toXY(p.points)} shape={Dot} isAnimationActive={false} />
        {p.fits.map((f, i) => (
          <Scatter key={i} data={toXY(f)} shape={NoDot} fill="none" stroke={modelColors[i]}
            line={{ stroke: modelColors[i], strokeWidth: 2.6 }} lineType="joint" isAnimationActive={false} />
        ))}
      </ScatterChart>
    </div>
  );
}

function Strip({ left, top, width, label }: { left: number; top: number; width: number; label: string }) {
  return (
    <div style={{
      position: 'absolute', left, top, width, height: 29, boxSizing: 'border-box',
      background: '#d9d9d9', border: '1px solid #333333', color: '#1a1a1a',
      fontSize: 14, fontFamily: FONT, display: 'flex', alignItems: 'center', justifyContent: 'center',
    }}>{label}</div>
  );
}

function Border({ left, top, width, height }: { left: number; top: number; width: number; height: number }) {
  return (
    <div style={{
      position: 'absolute', left, top, width, height, boxSizing: 'border-box',
      border: '1px solid #333333', pointerEvents: 'none',
    }} />
  );
}

export default function App() {
  return (
    <div style={{ position: 'absolute', left: 0, top: 0, width: 800, height: 798, background: '#fff', fontFamily: FONT }}>
      <Panel left={0} top={0} width={420} height={390}
        margin={{ top: 32, right: 11, bottom: 1, left: 35 }}
        xDomain={[7.46, 23.89]} yDomain={[2813, 6146]}
        xTicks={pncXTicks} yTicks={pncYTicks} xMinor={[10, 14, 18, 22]} yMinor={[3500, 4500, 5500]}
        points={pncPoints} fits={[pncLinear, pncQuadratic, pncGam]} />
      <Panel left={400} top={0} width={400} height={390}
        margin={{ top: 32, right: 4, bottom: 1, left: 20 }}
        xDomain={[17.96, 93.95]} yDomain={[2753, 5108]}
        xTicks={shipXTicks} yTicks={shipYTicks} xMinor={[30, 50, 70, 90]} yMinor={[3250, 3750, 4250, 4750]}
        points={shipPoints} fits={[shipLinear, shipQuadratic, shipGam]} />
      <Panel left={0} top={380} width={420} height={420}
        margin={{ top: 41, right: 10, bottom: 21, left: 35 }}
        xDomain={[19.05, 98.7]} yDomain={[2422, 5507]}
        xTicks={blsaXTicks} yTicks={blsaYTicks} xMinor={[30, 50, 70, 90]} yMinor={[2750, 3250, 3750, 4250, 4750, 5250]}
        points={blsaPoints} fits={[blsaLinear, blsaQuadratic, blsaGam]} />

      <Border left={75} top={32} width={334} height={327} />
      <Border left={460} top={32} width={336} height={327} />
      <Border left={75} top={421} width={335} height={328} />
      <Strip left={75} top={4} width={334} label={panelTitles[0]} />
      <Strip left={460} top={4} width={336} label={panelTitles[1]} />
      <Strip left={75} top={393} width={335} label={panelTitles[2]} />

      <svg width={800} height={798} style={{ position: 'absolute', left: 0, top: 0, pointerEvents: 'none' }}>
        <text x={435.5} y={790} textAnchor="middle" fontSize={17.5} fill="#000" fontFamily={FONT}>Age</text>
        <text transform="translate(23,388) scale(1,1.13) rotate(-90)" textAnchor="middle" fontSize={17.5} fill="#000" fontFamily={FONT}>
          Hippocampus Volume (mm<tspan dy={-7} fontSize={12.5}>3</tspan><tspan dy={7}>)</tspan>
        </text>
        <text x={568} y={533} fontSize={17.5} fill="#000" fontFamily={FONT}>Model</text>
        {modelNames.map((n, i) => {
          const y = [557.5, 582.5, 608.5][i];
          return (
            <g key={n}>
              <line x1={569} x2={590} y1={y} y2={y} stroke={modelColors[i]} strokeWidth={2.6} />
              <text x={602} y={y + 5} fontSize={14} fill="#000" fontFamily={FONT}>{n}</text>
            </g>
          );
        })}
      </svg>
    </div>
  );
}
